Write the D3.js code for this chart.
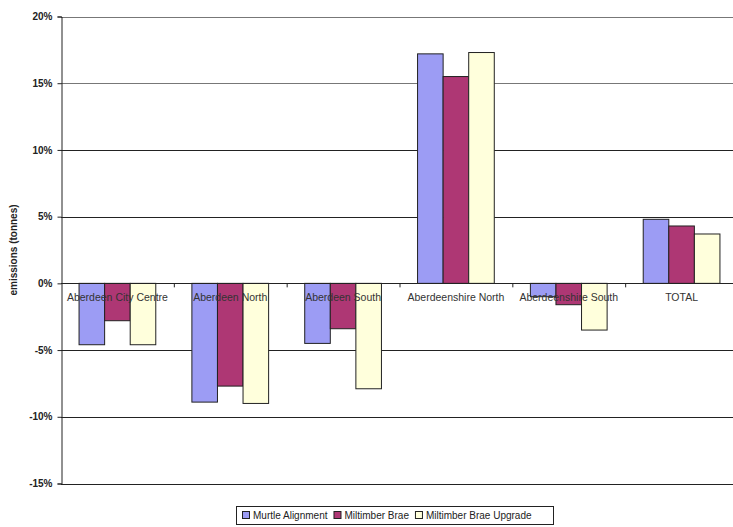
<!DOCTYPE html>
<html>
<head>
<meta charset="utf-8">
<script src="https://cdn.jsdelivr.net/npm/d3@7"></script>
<style>
  html, body { margin: 0; padding: 0; background: #fff; }
  svg { display: block; font-family: Arial, "Liberation Sans", sans-serif; }
</style>
</head>
<body>
<svg id="chart" width="733" height="527"></svg>
<script>
// Change in emissions by area for each route option (percent)
const categories = ["Aberdeen City Centre", "Aberdeen North", "Aberdeen South",
                    "Aberdeenshire North", "Aberdeenshire South", "TOTAL"];
const seriesNames = ["Murtle Alignment", "Miltimber Brae", "Miltimber Brae Upgrade"];
const murtleAlignment = [-4.6, -8.9, -4.5, 17.2, -1.0, 4.8];
const miltimberBrae = [-2.8, -7.7, -3.4, 15.5, -1.6, 4.3];
const miltimberBraeUpgrade = [-4.6, -9.0, -7.9, 17.3, -3.5, 3.7];
const yTicks = [20, 15, 10, 5, 0, -5, -10, -15];
const colors = ["#9c9cf4", "#ae3774", "#ffffdc"];

const seriesValues = [murtleAlignment, miltimberBrae, miltimberBraeUpgrade];
const rows = categories.map((c, i) => ({
  category: c,
  values: seriesNames.map((s, k) => ({ series: s, k, value: seriesValues[k][i] }))
}));

const svg = d3.select("#chart");
const plot = { left: 61, right: 738, top: 16.5, bottom: 483.5 };

const x = d3.scaleBand().domain(categories).range([plot.left, plot.right]).padding(0);
const barSpan = x.bandwidth() * 0.68;
const xInner = d3.scaleBand().domain(seriesNames)
  .range([(x.bandwidth() - barSpan) / 2, (x.bandwidth() + barSpan) / 2]).padding(0);
const y = d3.scaleLinear().domain([-15, 20]).range([plot.bottom, plot.top]);

// horizontal gridlines
svg.append("g").selectAll("line").data(yTicks).join("line")
  .attr("x1", plot.left).attr("x2", 733)
  .attr("y1", d => Math.round(y(d)) + 0.5).attr("y2", d => Math.round(y(d)) + 0.5)
  .attr("stroke", d => (d === 20 || d === 15) ? "#777" : "#222")
  .attr("stroke-width", 1);

// y axis
const yAxis = d3.axisLeft(y).tickValues(yTicks).tickSize(4).tickPadding(5)
  .tickFormat(d => d + "%");
const gy = svg.append("g").attr("transform", `translate(${plot.left + 0.5},0)`).call(yAxis);
gy.select(".domain").attr("stroke", "#222");
gy.selectAll(".tick line").attr("stroke", "#222");
gy.selectAll(".tick text").attr("font-size", 10).attr("font-weight", "bold").attr("fill", "#222");

// bars
const groups = svg.append("g").selectAll("g").data(rows).join("g")
  .attr("transform", d => `translate(${x(d.category)},0)`);
groups.selectAll("rect").data(d => d.values).join("rect")
  .attr("x", d => xInner(d.series))
  .attr("width", xInner.bandwidth())
  .attr("y", d => y(Math.max(0, d.value)))
  .attr("height", d => Math.abs(y(d.value) - y(0)))
  .attr("fill", d => colors[d.k])
  .attr("stroke", "#222")
  .attr("stroke-width", 1);

// zero line with category separator ticks
svg.append("line")
  .attr("x1", plot.left).attr("x2", 733)
  .attr("y1", Math.round(y(0)) + 0.5).attr("y2", Math.round(y(0)) + 0.5)
  .attr("stroke", "#222");
svg.append("g").selectAll("line").data(categories.slice(1)).join("line")
  .attr("x1", d => x(d) + 0.5).attr("x2", d => x(d) + 0.5)
  .attr("y1", y(0)).attr("y2", y(0) + 4)
  .attr("stroke", "#222");

// category labels just under the zero line
svg.append("g").selectAll("text").data(categories).join("text")
  .attr("x", d => x(d) + x.bandwidth() / 2)
  .attr("y", y(0) + 18)
  .attr("text-anchor", "middle")
  .attr("font-size", 10.5)
  .attr("fill", "#333")
  .text(d => d);

// y axis title
svg.append("text")
  .attr("transform", `translate(17,${y(2.5)}) rotate(-90)`)
  .attr("text-anchor", "middle")
  .attr("font-size", 10)
  .attr("font-weight", "bold")
  .attr("fill", "#222")
  .text("emissions (tonnes)");

// legend
const legend = svg.append("g").attr("transform", "translate(236,506)");
legend.append("rect").attr("x", 0.5).attr("y", 0.5).attr("width", 317).attr("height", 18)
  .attr("fill", "#fff").attr("stroke", "#222");
let lx = 6;
seriesNames.forEach((s, k) => {
  const item = legend.append("g").attr("transform", `translate(${lx},0)`);
  item.append("rect").attr("x", 0.5).attr("y", 5.5).attr("width", 7).attr("height", 7)
    .attr("fill", colors[k]).attr("stroke", "#222");
  const t = item.append("text").attr("x", 11).attr("y", 13)
    .attr("font-size", 10).attr("fill", "#222").text(s);
  lx += 11 + t.node().getComputedTextLength() + 6;
});
</script>
</body>
</html>
